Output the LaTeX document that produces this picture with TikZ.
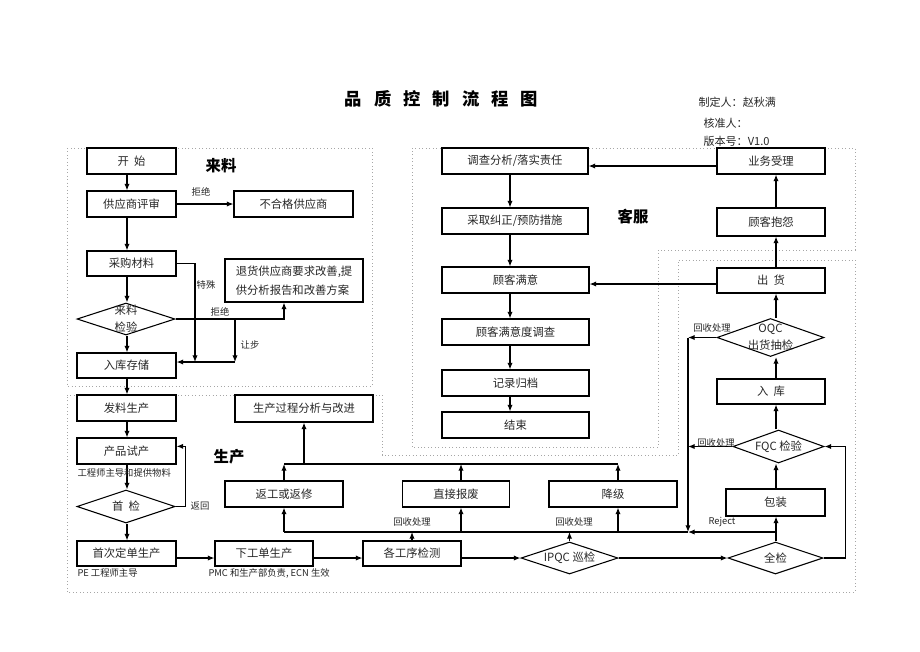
\documentclass[tikz,border=0pt]{standalone}
\usepackage{fontspec}
\newfontfamily\cjk{Noto Sans CJK SC}
\usetikzlibrary{shapes.geometric,arrows.meta}

\tikzset{every picture/.style={line width=0.75pt}}
\tikzset{
	bx/.style={draw, line width=0.8pt, inner sep=1pt, text=black!85, font=\cjk\fontsize{8.5}{10}\selectfont},
	dia/.style={draw, diamond, line width=0.8pt, inner sep=0pt},
	dtxt/.style={text=black!85, font=\cjk\fontsize{8.5}{13}\selectfont, align=center, inner sep=0pt},
	lab/.style={text=black!85, font=\cjk\fontsize{7}{8}\selectfont, inner sep=0pt},
	hd/.style={font=\cjk\bfseries\fontsize{11.5}{13}\selectfont, inner sep=0pt},
	ttl/.style={font=\cjk\bfseries\fontsize{13}{15}\selectfont, inner sep=0pt},
	arr/.style={line width=0.9pt, -{Latex[length=5pt,width=4pt]}},
	ln/.style={line width=0.9pt},
	zone/.style={draw=gray!70, dotted, line width=0.6pt},
}

\begin{document}
\begin{tikzpicture}[x=0.75pt,y=0.75pt,yscale=-1,xscale=1]
	\useasboundingbox (0,0) rectangle (920,651);

	%Zones
	\draw[zone] (67,148) rectangle (372,386);
	\draw[zone] (412,148) -- (855,148) -- (855,250) -- (658,250) -- (658,447) -- (412,447) -- cycle;
	\draw[zone] (67,395) -- (382,395) -- (382,455) -- (678,455) -- (678,260) -- (855,260) -- (855,592) -- (67,592) -- cycle;

	% Title
	\foreach \c [count=\i] in {品,质,控,制,流,程,图}
		\node[ttl] (t\i) at (353.5+29.3*\i-29.3,99) {\c};
	% Text Node
	\node[lab, font=\cjk\fontsize{8.3}{10}\selectfont, anchor=west] (zdr) at (698,102) {制定人：赵秋满};
	\node[lab, font=\cjk\fontsize{8.3}{10}\selectfont, anchor=west] (hzr) at (703,123) {核准人：};
	\node[lab, font=\cjk\fontsize{8.3}{10}\selectfont, anchor=west] (bbh) at (703,141) {版本号：V1.0};

	% Headings
	\node[hd] (hll) at (221,166) {来料};
	\node[hd] (hkf) at (633,217) {客服};
	\node[hd] (hsc) at (229,457) {生产};

	%来料
	\node[bx, minimum width=66.75pt, minimum height=19.5pt] (ks) at (131.5,161) {开\ \ 始};
	\node[bx, minimum width=66.75pt, minimum height=19.5pt] (gys) at (131.5,204) {供应商评审};
	\node[bx, minimum width=89.25pt, minimum height=19.5pt] (bhg) at (293.5,204) {不合格供应商};
	\node[bx, minimum width=66.75pt, minimum height=18.75pt] (cg) at (131.5,263.5) {采购材料};
	\node[bx, minimum width=103.5pt, minimum height=32.25pt, align=left, font=\cjk\fontsize{8.5}{14}\selectfont] (th) at (294,280.5) {退货供应商要求改善,提\\供分析报告和改善方案};
	\node[dia, minimum width=73.5pt, minimum height=24pt, label={[dtxt]center:来料\\检验}] (ll) at (126,319) {};
	\node[bx, minimum width=74.25pt, minimum height=18.75pt] (rk) at (126.5,365.5) {入库存储};

	%生产
	\node[bx, minimum width=74.25pt, minimum height=19.5pt] (fl) at (126.5,408) {发料生产};
	\node[bx, minimum width=74.25pt, minimum height=19.5pt] (sc) at (126.5,451) {产品试产};
	\node[dia, minimum width=73.5pt, minimum height=24.75pt, label={[dtxt]center:首\ \ 检}] (sj) at (126,506.5) {};
	\node[bx, minimum width=74.25pt, minimum height=18.75pt] (sd) at (126.5,553.5) {首次定单生产};
	\node[bx, minimum width=73.5pt, minimum height=18.75pt] (xg) at (264,553.5) {下工单生产};
	\node[bx, minimum width=73.5pt, minimum height=18.75pt] (gx) at (412,553.5) {各工序检测};
	\node[dia, minimum width=72.75pt, minimum height=24pt, label={[dtxt]center:IPQC 巡检}] (ipqc) at (569.5,558) {};
	\node[dia, minimum width=71.25pt, minimum height=24pt, label={[dtxt]center:全检}] (qj) at (775.5,558) {};
	\node[bx, minimum width=74.25pt, minimum height=20.25pt] (bz) at (775.5,502.5) {包装};
	\node[dia, minimum width=68.25pt, minimum height=24.75pt, label={[dtxt]center:FQC 检验}] (fqc) at (778.5,446.5) {};
	\node[bx, minimum width=81pt, minimum height=18.75pt] (rku) at (771,391.5) {入\ \ 库};
	\node[dia, minimum width=80.25pt, minimum height=28.5pt, label={[dtxt]center:OQC\\出货抽检}] (oqc) at (770.5,337.5) {};
	\node[bx, minimum width=81pt, minimum height=18.75pt] (ch) at (771,280.5) {出\ \ 货};
	\node[bx, minimum width=88.5pt, minimum height=19.5pt] (fg) at (284,494) {返工或返修};
	\node[bx, minimum width=80.25pt, minimum height=19.5pt] (bf) at (456,494) {直接报废};
	\node[bx, minimum width=96pt, minimum height=19.5pt] (jj) at (613,494) {降级};
	\node[bx, minimum width=103.5pt, minimum height=20.25pt] (gcfx) at (304,408.5) {生产过程分析与改进};

	%客服
	\node[bx, minimum width=81pt, minimum height=21pt] (gkby) at (771,222) {顾客抱怨};
	\node[bx, minimum width=81pt, minimum height=19.5pt] (ywsl) at (771,161) {业务受理};
	\node[bx, minimum width=109.5pt, minimum height=19.5pt] (dc) at (515,161) {调查分析/落实责任};
	\node[bx, minimum width=109.5pt, minimum height=19.5pt] (cq) at (515,221) {采取纠正/预防措施};
	\node[bx, minimum width=110.25pt, minimum height=19.5pt] (gkmy) at (515.5,280) {顾客满意};
	\node[bx, minimum width=110.25pt, minimum height=19.5pt] (dcd) at (515.5,332) {顾客满意度调查};
	\node[bx, minimum width=110.25pt, minimum height=19.5pt] (jl) at (515.5,383) {记录归档};
	\node[bx, minimum width=110.25pt, minimum height=19.5pt] (js) at (515.5,425) {结束};

	% Line coordinates
	\coordinate (lx) at (127,0);
	\coordinate (kx) at (510,0);
	\coordinate (rx) at (776,0);
	\coordinate (vx) at (688,0);
	\coordinate (xbf) at (461,0);
	\coordinate (xjj) at (618,0);
	\coordinate (ky) at (0,166);
	\coordinate (cy) at (0,284);
	\coordinate (ry) at (0,558);
	\coordinate (tsj) at (195,362);
	\coordinate (rbt) at (235,319);
	\coordinate (rbj) at (235,362);
	\coordinate (tb1) at (284,464);
	\coordinate (tb2) at (618,464);
	\coordinate (bb1) at (284,532);
	\coordinate (bb2) at (688,532);

	%Straight Lines 来料
	\draw[arr] (ks.south -| lx) -- (gys.north -| lx);
	\draw[arr] (gys.east) -- (bhg.west);
	\draw[arr] (gys.south -| lx) -- (cg.north -| lx);
	\draw[arr] (cg.south -| lx) -- (ll.north -| lx);
	\draw[arr] (cg.east) -| (tsj);
	\draw[arr] (ll.east) -| ([xshift=-7.5pt]th.south);
	\draw[arr] (rbt) -- (rbj);
	\draw[arr] (rbj) -- (rk.east |- rbj);
	\draw[arr] (ll.south -| lx) -- (rk.north -| lx);
	\draw[arr] (rk.south -| lx) -- (fl.north -| lx);

	%Straight Lines 生产
	\draw[arr] (fl.south -| lx) -- (sc.north -| lx);
	\draw[arr] (sc.south -| lx) -- (sj.north -| lx);
	\draw[arr] (sj.south -| lx) -- (sd.north -| lx);
	\draw[arr] (sj.east) -- ++(10,0) |- ([yshift=-3.5pt]sc.east);
	\draw[arr] (sd.east |- ry) -- (xg.west |- ry);
	\draw[arr] (xg.east |- ry) -- (gx.west |- ry);
	\draw[arr] (gx.east |- ry) -- (ipqc.west);
	\draw[arr] (ipqc.east) -- (qj.west);
	\draw[arr] (qj.east) -- ++(22,0) |- (fqc.east);
	\draw[arr] (qj.north -| rx) -- (bz.south -| rx);
	\draw[arr] (bz.north -| rx) -- (fqc.south -| rx);
	\draw[arr] (fqc.north -| rx) -- (rku.south -| rx);
	\draw[arr] (rku.north -| rx) -- (oqc.south -| rx);
	\draw[arr] (oqc.north -| rx) -- (ch.south -| rx);
	\draw[arr] (oqc.west) -- (oqc.west -| vx);
	\draw[arr] (fqc.west) -- (fqc.west -| vx);
	\draw[arr] (oqc.west -| vx) -- (bb2);
	\draw[arr] (rx |- bb2) -- (bb2);
	\draw[ln] (bb2) -- (bb1);
	\draw[arr] (bb1) -- (fg.south);
	\draw[arr] (xbf |- bb1) -- (bf.south -| xbf);
	\draw[arr] (xjj |- bb1) -- (jj.south -| xjj);
	\draw[arr] (gx.north) -- (gx.north |- bb1);
	\draw[arr] (ipqc.north) -- (ipqc.north |- bb1);
	\draw[ln] (tb1) -- (tb2);
	\draw[arr] (fg.north) -- (tb1);
	\draw[arr] (bf.north -| xbf) -- (xbf |- tb1);
	\draw[arr] (jj.north -| xjj) -- (tb2);
	\draw[arr] (gcfx.south |- tb1) -- (gcfx.south);

	%Straight Lines 客服
	\draw[arr] (ch.north -| rx) -- (gkby.south -| rx);
	\draw[arr] (gkby.north -| rx) -- (ywsl.south -| rx);
	\draw[arr] (ywsl.west |- ky) -- (dc.east |- ky);
	\draw[arr] (dc.south -| kx) -- (cq.north -| kx);
	\draw[arr] (cq.south -| kx) -- (gkmy.north -| kx);
	\draw[arr] (ch.west |- cy) -- (gkmy.east |- cy);
	\draw[arr] (gkmy.south -| kx) -- (dcd.north -| kx);
	\draw[arr] (dcd.south -| kx) -- (jl.north -| kx);
	\draw[arr] (jl.south -| kx) -- (js.north -| kx);

	% Text Node
	\node[lab] (jj1) at (201,192) {拒绝};
	\node[lab] (ts) at (206,285) {特殊};
	\node[lab] (jj2) at (220,312) {拒绝};
	\node[lab] (rb) at (250,345) {让步};
	\node[lab] (fh) at (200,506) {返回};
	\node[lab, anchor=west] (gcs) at (77,473) {工程师主导和提供物料};
	\node[lab, anchor=west] (pe) at (77,573) {PE 工程师主导};
	\node[lab, anchor=west] (pmc) at (208,573) {PMC 和生产部负责, ECN 生效};
	\node[lab] (hs1) at (412,522) {回收处理};
	\node[lab] (hs2) at (574,522) {回收处理};
	\node[lab] (rej) at (722,522) {Reject};
	\node[lab] (hs3) at (712,328) {回收处理};
	\node[lab] (hs4) at (716,443) {回收处理};

\end{tikzpicture}
\end{document}
